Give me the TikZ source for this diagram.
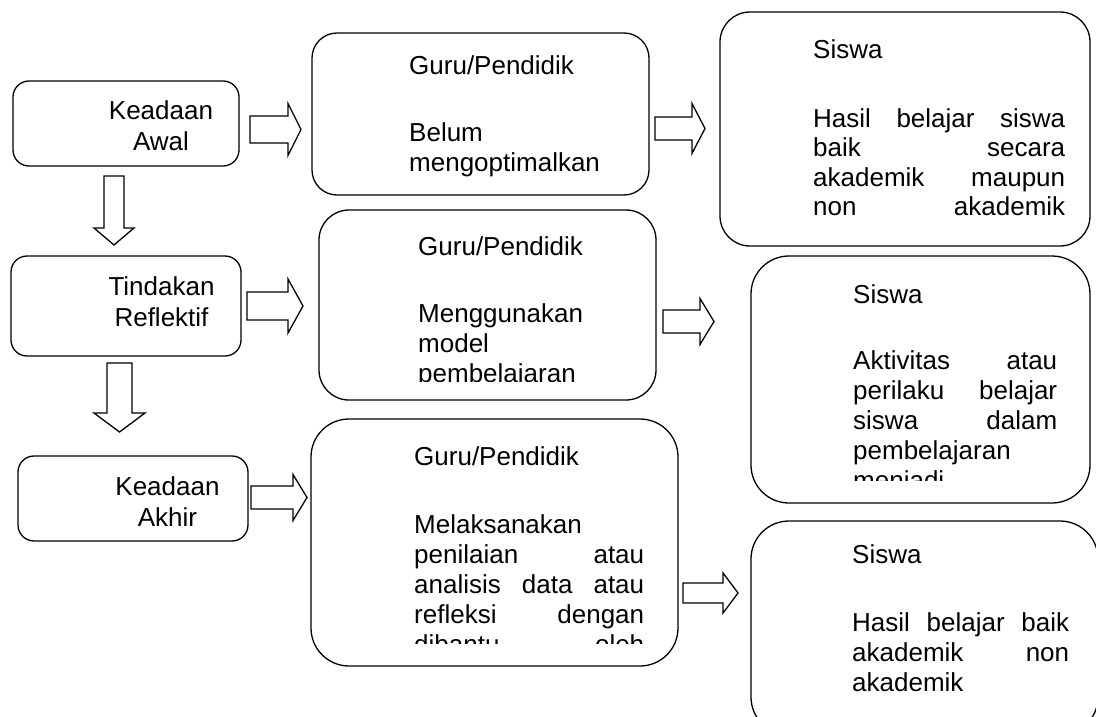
\documentclass[tikz,border=0pt]{standalone}
\usepackage{fontspec}
\setmainfont{Liberation Sans}
\newcommand\blockright[6]{% x0, head base x, tip x, yc, shaft half, head half
  \draw[blk] (#1,#4-#5) -- (#2,#4-#5) -- (#2,#4-#6) -- (#3,#4) -- (#2,#4+#6) -- (#2,#4+#5) -- (#1,#4+#5) -- cycle;}
\newcommand\blockdown[6]{% xc, y0, head base y, tip y, shaft half, head half
  \draw[blk] (#1-#5,#2) -- (#1+#5,#2) -- (#1+#5,#3) -- (#1+#6,#3) -- (#1,#4) -- (#1-#6,#3) -- (#1-#5,#3) -- cycle;}
\begin{document}
\begin{tikzpicture}[x=1pt,y=-1pt,
  box/.style={draw, line width=1.3pt, anchor=north west, inner sep=0pt, outer sep=0pt},
  blk/.style={draw, line width=1.3pt, line join=miter},
  txt/.style={anchor=base west, inner sep=0pt, font=\fontsize{26}{30}\selectfont},
  ctxt/.style={anchor=base, inner sep=0pt, font=\fontsize{26}{31}\selectfont}]
\useasboundingbox (0,0) rectangle (1096,717);
\clip (0,0) rectangle (1096,717);

% left column
\node[box, rounded corners=16pt, minimum width=226pt, minimum height=85pt] (awal) at (13,81) {};
\node[box, rounded corners=16pt, minimum width=230pt, minimum height=100pt] (tind) at (11,256) {};
\node[box, rounded corners=16pt, minimum width=230pt, minimum height=85pt] (akhir) at (18,456) {};
\node[ctxt] (tawal) at (161,120) {\parbox[t]{160pt}{\centering Keadaan\\Awal}};
\node[ctxt] (ttind) at (161.5,295) {\parbox[t]{160pt}{\centering Tindakan\\Reflektif}};
\node[ctxt] (takhir) at (167.5,495) {\parbox[t]{160pt}{\centering Keadaan\\Akhir}};

% middle column
\node[box, rounded corners=25pt, minimum width=337pt, minimum height=162pt] (guru1) at (312,33) {};
\node[box, rounded corners=30pt, minimum width=337pt, minimum height=190pt] (guru2) at (319,210) {};
\node[box, rounded corners=38pt, minimum width=367pt, minimum height=247pt] (guru3) at (311,419) {};
\node[txt] (tguru1) at (409,75) {\parbox[t]{230pt}{Guru/Pendidik\\[37pt]Belum\\mengoptimalkan}};
\begin{scope}
\clip (319,210) rectangle (656,381);
\node[txt] (tguru2) at (418,255) {\parbox[t]{230pt}{Guru/Pendidik\\[37pt]Menggunakan\\model\\pembelajaran}};
\end{scope}
\begin{scope}
\clip (311,419) rectangle (678,643);
\node[txt] (tguru3) at (414,465) {\parbox[t]{230pt}{Guru/Pendidik\\[38pt]Melaksanakan\\penilaian\hfill atau\\analisis\hfill data\hfill atau\\refleksi\hfill dengan\\dibantu\hfill oleh}};
\end{scope}

% right column
\node[box, rounded corners=30pt, minimum width=370pt, minimum height=234pt] (siswa1) at (720,12) {};
\node[box, rounded corners=38pt, minimum width=339pt, minimum height=247pt] (siswa2) at (751,256) {};
\node[box, rounded corners=38pt, minimum width=347pt, minimum height=214pt] (siswa3) at (751,521) {};
\node[txt, font=\fontsize{26}{29.5}\selectfont] (tsiswa1) at (813,59) {\parbox[t]{252pt}{Siswa\\[39pt]Hasil\hfill belajar\hfill siswa\\baik\hfill secara\\akademik\hfill maupun\\non\hfill akademik}};
\begin{scope}
\clip (751,256) rectangle (1090,480);
\node[txt] (tsiswa2) at (853,303) {\parbox[t]{204pt}{Siswa\\[36pt]Aktivitas\hfill atau\\perilaku\hfill belajar\\siswa\hfill dalam\\pembelajaran\\menjadi}};
\end{scope}
\node[txt] (tsiswa3) at (852,563) {\parbox[t]{217pt}{Siswa\\[38pt]Hasil\hfill belajar\hfill baik\\akademik\hfill non\\akademik}};

% block arrows
\blockright{250}{288}{301}{129.5}{13.5}{26}
\blockright{655}{692}{705}{128.5}{11.5}{25}
\blockright{247}{288}{303}{306}{14}{27}
\blockright{663}{700}{714}{321.5}{11.5}{23}
\blockright{251}{293}{307}{497.5}{11.5}{23}
\blockright{683}{723}{738}{593}{10}{20}
\blockdown{114}{176}{228}{245}{10}{20}
\blockdown{119.5}{363}{413}{432}{12.5}{25.5}
\end{tikzpicture}
\end{document}
